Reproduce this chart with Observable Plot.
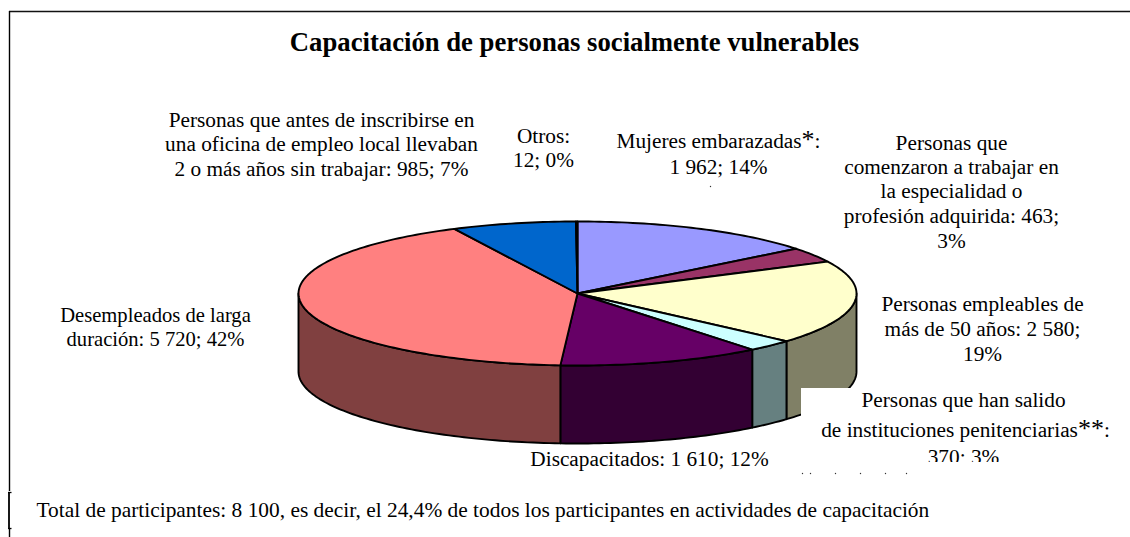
<!DOCTYPE html>
<html lang="es">
<head>
<meta charset="utf-8">
<script src="https://cdn.jsdelivr.net/npm/d3@7"></script>
<script src="https://cdn.jsdelivr.net/npm/@observablehq/plot@0.6"></script>
<style>
html,body{margin:0;padding:0;background:#fff;overflow:hidden}
svg{display:block}
</style>
</head>
<body>
<div id="chart"></div>
<script>
// --- data (clockwise from twelve o'clock) ---
const categories = ["Mujeres embarazadas","Personas que comenzaron a trabajar","Personas empleables de más de 50 años","Personas que han salido de instituciones penitenciarias","Discapacitados","Desempleados de larga duración","2 o más años sin trabajar","Otros"];
const values = [1962, 463, 2580, 370, 1610, 5720, 985, 12];
const topColors = ["#9999FF","#993366","#FFFFCC","#CCFFFF","#660066","#FF8080","#0066CC","#CCCCFF"];
const wallColors = ["#4D4D80","#4D1A33","#808066","#668080","#330033","#804040","#003366","#666680"];
const title = "Capacitación de personas socialmente vulnerables";
const caption = "Total de participantes: 8 100, es decir, el 24,4% de todos los participantes en actividades de capacitación";
const labelLines = [
 "Personas que antes de inscribirse en","una oficina de empleo local llevaban","2 o más años sin trabajar: 985; 7%",
 "Otros:","12; 0%",
 "Mujeres embarazadas*:","1 962; 14%",
 "Personas que","comenzaron a trabajar en","la especialidad o","profesión adquirida: 463;","3%",
 "Personas empleables de","más de 50 años: 2 580;","19%",
 "Desempleados de larga","duración: 5 720; 42%",
 "Discapacitados: 1 610; 12%",
 "Personas que han salido","de instituciones penitenciarias**:","370; 3%"
];
// --- layout, kept apart from the data ---
const labelX = [321,321,321, 543,543, 718,718, 951,951,951,951,951, 982,982,982, 155,155, 649, 963,965,963];
const labelY = [120,144,169, 136,160, 141,167, 143,167,191,216,241, 304,329,354, 315,339, 459, 400,430,457];
const labelSize = labelLines.map((d, i) => i === 15 || i === 16 ? 20.6 : 21.3);
const W = 1130, H = 537;
const cx = 577, cy = 293, rx = 279, ry = 72, depth = 78;
const total = d3.sum(values);
const cum = d3.cumsum(values);
const angle = i => (i < 0 ? 0 : cum[i] / total * 2 * Math.PI);
const rim = (t, dy = 0) => ({x: cx + rx * Math.sin(t), y: cy - ry * Math.cos(t) + dy});
function arc(a, b, dy = 0) {
  const n = Math.max(2, Math.ceil((b - a) / 0.02));
  return d3.range(n + 1).map(k => rim(a + (b - a) * k / n, dy));
}
const marks = [];
const shape = (pts, fill) => Plot.line(pts, {x: "x", y: "y", fill, stroke: "#000", strokeWidth: 1.9, strokeLinejoin: "round", curve: "linear"});
// side walls: only the front half of the disc shows them
values.forEach((v, i) => {
  const a = Math.max(angle(i - 1), Math.PI / 2), b = Math.min(angle(i), 3 * Math.PI / 2);
  if (b <= a) return;
  const top = arc(a, b), bottom = arc(a, b, depth).reverse();
  marks.push(shape([...top, ...bottom, top[0]], wallColors[i]));
});
// top faces
values.forEach((v, i) => {
  const c = {x: cx, y: cy};
  marks.push(shape([c, ...arc(angle(i - 1), angle(i)), c], topColors[i]));
});
// white patches that hide part of the drawing in the source image
const patches = [{x1: 801, x2: W, y1: 388, y2: 460}];
marks.push(Plot.rect(patches, {x1: "x1", x2: "x2", y1: "y1", y2: "y2", fill: "#fff"}));
// labels
const serif = "'Liberation Serif','Times New Roman',serif";
labelLines.forEach((d, i) => marks.push(Plot.text([d], {x: () => labelX[i], y: () => labelY[i], text: t => t, textAnchor: "middle", lineAnchor: "middle", fontFamily: serif, fontSize: labelSize[i], fill: "#000"})));
marks.push(Plot.rect([{x1: 800, x2: W, y1: 462, y2: 472}], {x1: "x1", x2: "x2", y1: "y1", y2: "y2", fill: "#fff"}));
marks.push(Plot.text([title], {x: () => 574, y: () => 42, text: d => d, textAnchor: "middle", lineAnchor: "middle", fontFamily: serif, fontSize: 26.7, fontWeight: "bold", fill: "#000"}));
marks.push(Plot.text([caption], {x: () => 36, y: () => 510, text: d => d, textAnchor: "start", lineAnchor: "middle", fontFamily: serif, fontSize: 21.4, fill: "#000"}));
// specks left over in the source image
const speckX = [710, 802, 810, 835, 860, 885, 906];
const speckY = [186, 473, 473, 473, 473, 473, 473];
marks.push(Plot.dot(speckX, {x: d => d, y: (d, i) => speckY[i], r: 0.7, fill: "#333", stroke: "none"}));
// frame lines
marks.push(Plot.ruleY([11], {x1: 9, x2: W, stroke: "#111", strokeWidth: 1.5}));
marks.push(Plot.ruleX([9], {y1: 11, y2: 491, stroke: "#000", strokeWidth: 1.4}));
marks.push(Plot.ruleX([9], {y1: 528, y2: H, stroke: "#000", strokeWidth: 1.4}));
marks.push(Plot.ruleX([8.5], {y1: 492, y2: 528, stroke: "#000", strokeWidth: 1.8}));
marks.push(Plot.ruleY([492, 528], {x1: 8, x2: 11.5, stroke: "#000", strokeWidth: 1.3}));

const chart = Plot.plot({
  width: W, height: H, margin: 0,
  x: {domain: [0, W], range: [0, W], axis: null},
  y: {domain: [0, H], range: [0, H], axis: null},
  style: {background: "#fff"},
  marks
});
// enlarge the asterisks as in the source
chart.querySelectorAll("text").forEach(t => {
  if (!t.textContent.includes("*") || t.children.length) return;
  const s = t.textContent; t.textContent = "";
  s.split(/(\*+)/).forEach(part => {
    const ts = document.createElementNS("http://www.w3.org/2000/svg", "tspan");
    ts.textContent = part;
    if (part[0] === "*") ts.setAttribute("font-size", "26");
    t.appendChild(ts);
  });
});
document.getElementById("chart").appendChild(chart);
</script>
</body>
</html>
